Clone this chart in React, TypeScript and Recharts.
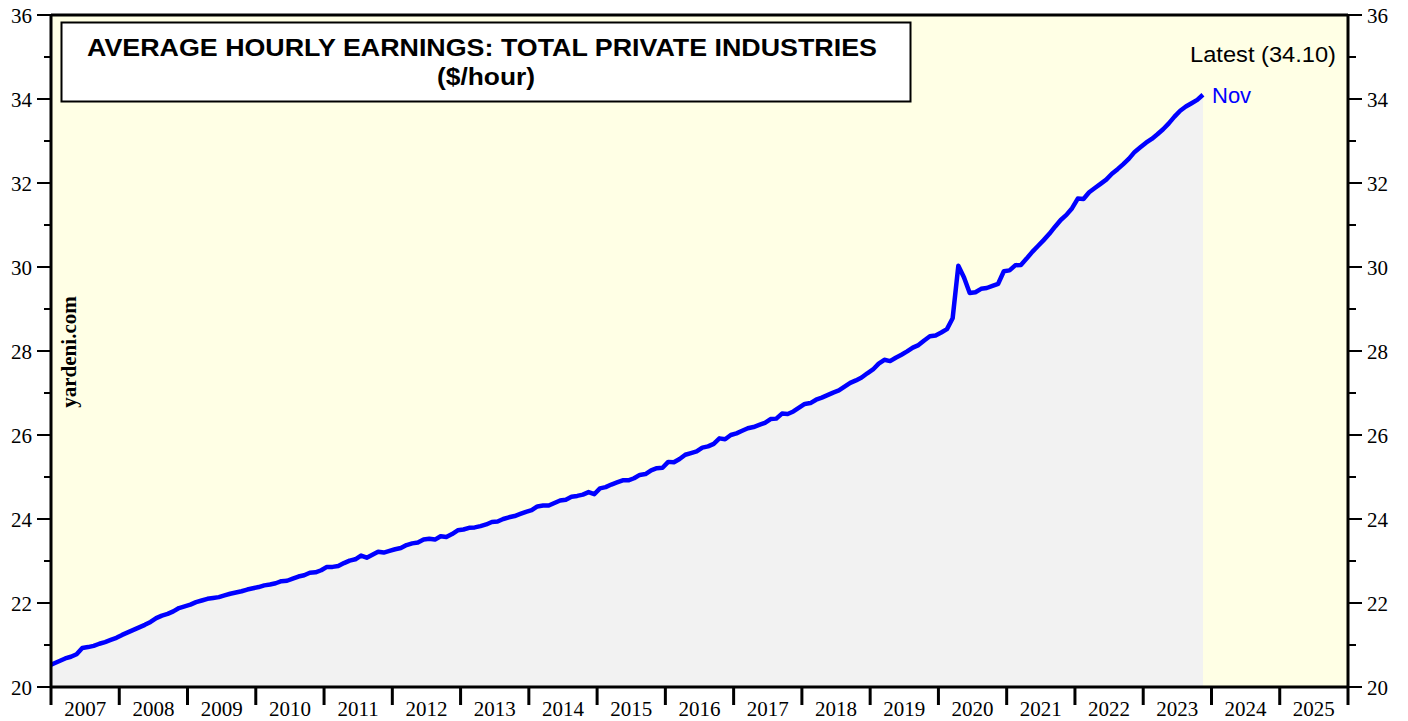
import React from 'react';
import { ComposedChart, Area, Line, XAxis, YAxis, CartesianGrid, ReferenceLine } from 'recharts';

// Monthly average hourly earnings, total private ($/hour)
const dec2006 = 20.5;
const y2007 = [20.56, 20.62, 20.68, 20.72, 20.78, 20.93, 20.95, 20.98, 21.03, 21.07, 21.12, 21.17];
const y2008 = [21.24, 21.3, 21.36, 21.42, 21.48, 21.55, 21.64, 21.7, 21.74, 21.8, 21.88, 21.92];
const y2009 = [21.96, 22.02, 22.06, 22.1, 22.12, 22.14, 22.18, 22.22, 22.25, 22.28, 22.32, 22.35];
const y2010 = [22.38, 22.42, 22.44, 22.47, 22.52, 22.53, 22.58, 22.63, 22.66, 22.72, 22.73, 22.78];
const y2011 = [22.86, 22.86, 22.88, 22.95, 23.01, 23.04, 23.13, 23.08, 23.15, 23.22, 23.2, 23.24];
const y2012 = [23.28, 23.31, 23.38, 23.42, 23.44, 23.51, 23.53, 23.51, 23.59, 23.57, 23.64, 23.73];
const y2013 = [23.75, 23.79, 23.8, 23.83, 23.87, 23.93, 23.94, 24.0, 24.04, 24.07, 24.12, 24.17];
const y2014 = [24.21, 24.3, 24.32, 24.32, 24.38, 24.44, 24.46, 24.53, 24.55, 24.58, 24.64, 24.59];
const y2015 = [24.73, 24.76, 24.82, 24.87, 24.92, 24.92, 24.97, 25.05, 25.07, 25.16, 25.21, 25.22];
const y2016 = [25.36, 25.35, 25.43, 25.53, 25.57, 25.61, 25.7, 25.73, 25.79, 25.92, 25.9, 26.0];
const y2017 = [26.04, 26.1, 26.16, 26.19, 26.24, 26.29, 26.38, 26.39, 26.51, 26.5, 26.56, 26.65];
const y2018 = [26.74, 26.76, 26.84, 26.89, 26.95, 27.01, 27.06, 27.15, 27.24, 27.3, 27.37, 27.47];
const y2019 = [27.56, 27.7, 27.79, 27.76, 27.84, 27.91, 27.99, 28.08, 28.14, 28.25, 28.35, 28.37];
const y2020 = [28.44, 28.52, 28.78, 30.03, 29.75, 29.38, 29.4, 29.48, 29.5, 29.55, 29.6, 29.9];
const y2021 = [29.92, 30.04, 30.05, 30.2, 30.36, 30.5, 30.64, 30.79, 30.96, 31.12, 31.24, 31.4];
const y2022 = [31.63, 31.62, 31.78, 31.88, 31.98, 32.08, 32.22, 32.33, 32.45, 32.58, 32.74, 32.85];
const y2023 = [32.96, 33.05, 33.16, 33.28, 33.42, 33.58, 33.72, 33.82, 33.9, 33.98, 34.1];

const yearSeries: [number, number[]][] = [
  [2007, y2007], [2008, y2008], [2009, y2009], [2010, y2010], [2011, y2011],
  [2012, y2012], [2013, y2013], [2014, y2014], [2015, y2015], [2016, y2016],
  [2017, y2017], [2018, y2018], [2019, y2019], [2020, y2020], [2021, y2021],
  [2022, y2022], [2023, y2023],
];

const yearTicks = [2007, 2008, 2009, 2010, 2011, 2012, 2013, 2014, 2015, 2016, 2017, 2018, 2019, 2020, 2021, 2022, 2023, 2024, 2025, 2026];
const yTicks = [20, 21, 22, 23, 24, 25, 26, 27, 28, 29, 30, 31, 32, 33, 34, 35, 36];

const data: { t: number; v: number }[] = [{ t: 2006 + 11.5 / 12, v: dec2006 }];
yearSeries.forEach(([yr, vals]) => {
  vals.forEach((v, m) => data.push({ t: yr + (m + 0.5) / 12, v }));
});

const W = 1408;
const H = 721;
const HALF_YEAR = (1348 - 51) / 19 / 2;

const serif = '"Liberation Serif", "Times New Roman", serif';
const sans = '"Liberation Sans", Arial, sans-serif';

const XTick = (props: any) => {
  const { x, payload } = props;
  if (payload.value >= 2026) return null;
  return (
    <text x={x + HALF_YEAR} y={716} textAnchor="middle" fontFamily={serif} fontSize={21} fill="#000">
      {payload.value}
    </text>
  );
};

const LeftTick = (props: any) => {
  const { x, y, payload } = props;
  const major = payload.value % 2 === 0;
  return (
    <g>
      <line x1={x - (major ? 14 : 7)} x2={x} y1={y} y2={y} stroke="#000" strokeWidth={2} />
      {major && (
        <text x={x - 19} y={y + 8} textAnchor="end" fontFamily={serif} fontSize={21} fill="#000">
          {payload.value}
        </text>
      )}
    </g>
  );
};

const RightTick = (props: any) => {
  const { x, y, payload } = props;
  const major = payload.value % 2 === 0;
  return (
    <g>
      <line x1={x} x2={x + (major ? 14 : 8)} y1={y} y2={y} stroke="#000" strokeWidth={2} />
      {major && (
        <text x={x + 19} y={y + 8} textAnchor="start" fontFamily={serif} fontSize={21} fill="#000">
          {payload.value}
        </text>
      )}
    </g>
  );
};

export default function App() {
  return (
    <div style={{ position: 'absolute', left: 0, top: 0, width: W, height: H, background: '#fff' }}>
      <ComposedChart width={W} height={H} data={data} margin={{ top: 15, right: 0, bottom: 0, left: 0 }}>
        <CartesianGrid horizontal={false} vertical={false} fill="#FFFFE5" yAxisId="l" />
        <XAxis
          dataKey="t"
          type="number"
          domain={[2007, 2026]}
          ticks={yearTicks}
          allowDataOverflow
          height={34}
          tickSize={18}
          tick={<XTick />}
          tickLine={{ stroke: '#000', strokeWidth: 3 }}
          axisLine={{ stroke: '#000', strokeWidth: 3 }}
          interval={0}
        />
        <YAxis
          yAxisId="l"
          orientation="left"
          width={51}
          domain={[20, 36]}
          ticks={yTicks}
          allowDataOverflow
          interval={0}
          tickSize={0}
          tickMargin={0}
          tickLine={false}
          tick={<LeftTick />}
          axisLine={{ stroke: '#000', strokeWidth: 3 }}
        />
        <YAxis
          yAxisId="r"
          orientation="right"
          width={60}
          domain={[20, 36]}
          ticks={yTicks}
          allowDataOverflow
          interval={0}
          tickSize={0}
          tickMargin={0}
          tickLine={false}
          tick={<RightTick />}
          axisLine={{ stroke: '#000', strokeWidth: 3 }}
        />
        <Area
          yAxisId="l"
          type="linear"
          dataKey="v"
          stroke="#0000FF"
          strokeWidth={4.5}
          strokeLinejoin="round"
          fill="#F2F2F2"
          fillOpacity={1}
          baseValue={20}
          dot={false}
          activeDot={false}
          isAnimationActive={false}
        />
        <Line
          yAxisId="r"
          type="linear"
          dataKey="v"
          stroke="none"
          dot={false}
          activeDot={false}
          legendType="none"
          isAnimationActive={false}
        />
        <ReferenceLine yAxisId="l" y={36} stroke="#000" strokeWidth={3} />
      </ComposedChart>
      <svg
        width={W}
        height={H}
        style={{ position: 'absolute', left: 0, top: 0, pointerEvents: 'none' }}
      >
        <rect x={61.5} y={22.5} width={849} height={79} fill="#fff" stroke="#000" strokeWidth={2} />
        <text
          x={482}
          y={56}
          textAnchor="middle"
          fontFamily={sans}
          fontWeight="bold"
          fontSize={23}
          textLength={790}
          lengthAdjust="spacingAndGlyphs"
          fill="#000"
        >
          AVERAGE HOURLY EARNINGS: TOTAL PRIVATE INDUSTRIES
        </text>
        <text
          x={486}
          y={85}
          textAnchor="middle"
          fontFamily={sans}
          fontWeight="bold"
          fontSize={23}
          textLength={98}
          lengthAdjust="spacingAndGlyphs"
          fill="#000"
        >
          ($/hour)
        </text>
        <text
          x={1336}
          y={62}
          textAnchor="end"
          fontFamily={sans}
          fontSize={22}
          textLength={146}
          lengthAdjust="spacingAndGlyphs"
          fill="#000"
        >
          Latest (34.10)
        </text>
        <text x={1212} y={103} textAnchor="start" fontFamily={sans} fontSize={22} fill="#0000FF">
          Nov
        </text>
        <text
          x={0}
          y={0}
          transform="translate(76,352) rotate(-90)"
          textAnchor="middle"
          fontFamily={serif}
          fontWeight="bold"
          fontSize={21}
          fill="#000"
        >
          yardeni.com
        </text>
      </svg>
    </div>
  );
}
